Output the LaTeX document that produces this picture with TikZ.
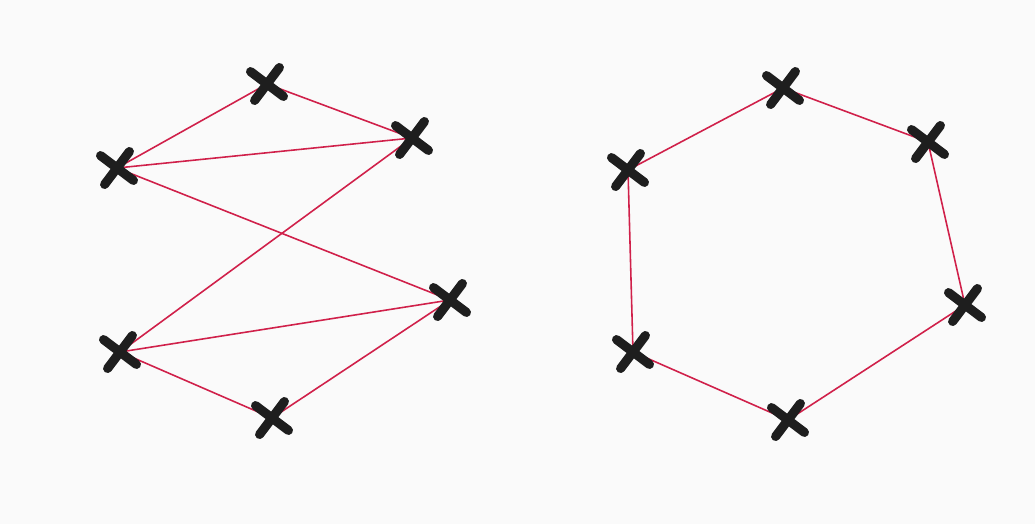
\documentclass[tikz,border=0pt]{standalone}
\usepackage{tikz}
\usetikzlibrary{shapes.misc}
\definecolor{paperWhite}{HTML}{FAFAFA}
\definecolor{inkBlack}{HTML}{1E1E1E}
\definecolor{penRed}{HTML}{D0204A}
\tikzset{
  penEdge/.style={draw=penRed, line width=0.9pt},
  xMark/.style={
    cross out,
    draw=inkBlack,
    line width=5.2pt,
    line cap=round,
    minimum size=4mm,
    inner sep=0pt,
    rotate=8
  }
}

\begin{document}
\begin{tikzpicture}[x=0.2mm, y=-0.2mm]
  \fill[paperWhite] (0,0) rectangle (1035,524);
  \useasboundingbox (0,0) rectangle (1035,524);

  % left graph
  \coordinate (a) at (117,168);
  \coordinate (b) at (267,84);
  \coordinate (c) at (412,138);
  \coordinate (d) at (450,300);
  \coordinate (e) at (120,352);
  \coordinate (f) at (272,418);
  % right graph
  \coordinate (g) at (628,170);
  \coordinate (h) at (783,88);
  \coordinate (i) at (928,142);
  \coordinate (j) at (965,305);
  \coordinate (k) at (633,352);
  \coordinate (l) at (788,420);

  \foreach \u/\v in {a/b,a/c,b/c,a/d,c/e,e/d,e/f,f/d,g/h,h/i,i/j,j/l,l/k,k/g}
    \draw[penEdge] (\u) -- (\v);

  \foreach \v in {a,b,c,d,e,f,g,h,i,j,k,l}
    \node[xMark] (x\v) at (\v) {};
\end{tikzpicture}
\end{document}
